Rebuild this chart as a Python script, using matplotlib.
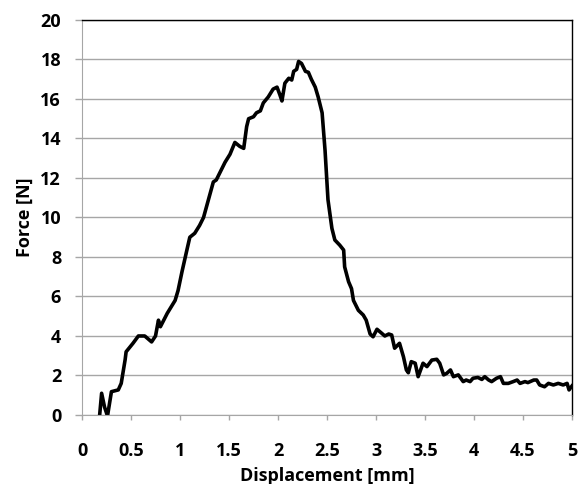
import matplotlib.pyplot as plt

# === Données ===
displacement = [0.18, 0.20, 0.23, 0.26, 0.30, 0.37, 0.40, 0.44, 0.45, 0.52, 0.575, 0.64,
                0.71, 0.75, 0.78, 0.80, 0.87, 0.95, 0.98, 1.02, 1.07, 1.10, 1.15, 1.20,
                1.24, 1.29, 1.34, 1.37, 1.46, 1.51, 1.56, 1.61, 1.65, 1.68, 1.70, 1.75,
                1.78, 1.82, 1.85, 1.90, 1.95, 1.99, 2.02, 2.04, 2.07, 2.11, 2.14, 2.16,
                2.19, 2.21, 2.24, 2.28, 2.31, 2.34, 2.38, 2.41, 2.45, 2.48, 2.51, 2.55,
                2.58, 2.63, 2.67, 2.68, 2.72, 2.75, 2.77, 2.82, 2.87, 2.90, 2.94, 2.97,
                3.01, 3.06, 3.09, 3.13, 3.16, 3.19, 3.24, 3.28, 3.31, 3.33, 3.36, 3.40,
                3.43, 3.48, 3.52, 3.57, 3.62, 3.65, 3.69, 3.72, 3.76, 3.79, 3.84, 3.89,
                3.92, 3.96, 3.99, 4.04, 4.08, 4.11, 4.15, 4.18, 4.23, 4.27, 4.30, 4.35,
                4.40, 4.44, 4.47, 4.52, 4.55, 4.61, 4.64, 4.67, 4.72, 4.76, 4.81, 4.86,
                4.91, 4.95, 4.97, 5.00]
force = [0.0, 1.1, 0.4, -0.05, 1.18, 1.27, 1.6, 2.8, 3.2, 3.63, 4.0, 4.0,
         3.7, 4.0, 4.8, 4.47, 5.15, 5.8, 6.3, 7.25, 8.35, 9.0, 9.2, 9.6,
         10.0, 10.9, 11.8, 11.9, 12.8, 13.2, 13.8, 13.6, 13.5, 14.6, 15.0, 15.1,
         15.3, 15.4, 15.8, 16.1, 16.5, 16.6, 16.2, 15.9, 16.8, 17.05, 16.96, 17.4,
         17.5, 17.9, 17.8, 17.4, 17.35, 17.0, 16.6, 16.1, 15.3, 13.4, 10.9, 9.45,
         8.86, 8.6, 8.35, 7.5, 6.75, 6.4, 5.8, 5.3, 5.06, 4.8, 4.1, 3.96,
         4.34, 4.13, 4.0, 4.1, 4.05, 3.38, 3.63, 2.95, 2.28, 2.14, 2.7, 2.62,
         1.94, 2.62, 2.45, 2.78, 2.82, 2.62, 2.03, 2.1, 2.28, 1.94, 2.03, 1.69,
         1.77, 1.69, 1.86, 1.9, 1.8, 1.94, 1.77, 1.69, 1.86, 1.94, 1.6, 1.6,
         1.69, 1.77, 1.6, 1.69, 1.64, 1.77, 1.77, 1.52, 1.43, 1.6, 1.52, 1.6,
         1.52, 1.6, 1.27, 1.47]

x_ticks = [0, 0.5, 1, 1.5, 2, 2.5, 3, 3.5, 4, 4.5, 5]
x_tick_labels = ["0", "0.5", "1", "1.5", "2", "2.5", "3", "3.5", "4", "4.5", "5"]
y_ticks = [0, 2, 4, 6, 8, 10, 12, 14, 16, 18, 20]

plt.rcParams["font.family"] = ["Open Sans", "DejaVu Sans"]

# === Figure ===
fig = plt.figure(figsize=(5.78, 4.84), dpi=100)
ax = fig.add_axes([0.1419, 0.1426, 0.8477, 0.8161])

ax.plot(displacement, force, color="black", linewidth=2.6, solid_joinstyle="round")

ax.set_xlim(0, 5)
ax.set_ylim(0, 20)
ax.set_xticks(x_ticks)
ax.set_xticklabels(x_tick_labels)
ax.set_yticks(y_ticks)

ax.grid(axis="y", color="#a6a6a6", linewidth=1.0)
ax.set_axisbelow(True)

for side in ["left", "bottom"]:
    ax.spines[side].set_color("#a6a6a6")
for side in ["top", "right"]:
    ax.spines[side].set_color("black")
    ax.spines[side].set_linewidth(1.0)

ax.tick_params(axis="both", colors="#a6a6a6", labelcolor="black", labelsize=13,
               width=1.0, direction="out")
ax.tick_params(axis="x", length=3.6, pad=16)
ax.tick_params(axis="y", length=5, pad=10)
for lbl in ax.get_xticklabels() + ax.get_yticklabels():
    lbl.set_fontweight("bold")

ax.set_xlabel("Displacement [mm]", fontsize=13, fontweight="bold", labelpad=5)
ax.set_ylabel("Force [N]", fontsize=13, fontweight="bold", labelpad=5)

plt.savefig("out.png", dpi=100)
